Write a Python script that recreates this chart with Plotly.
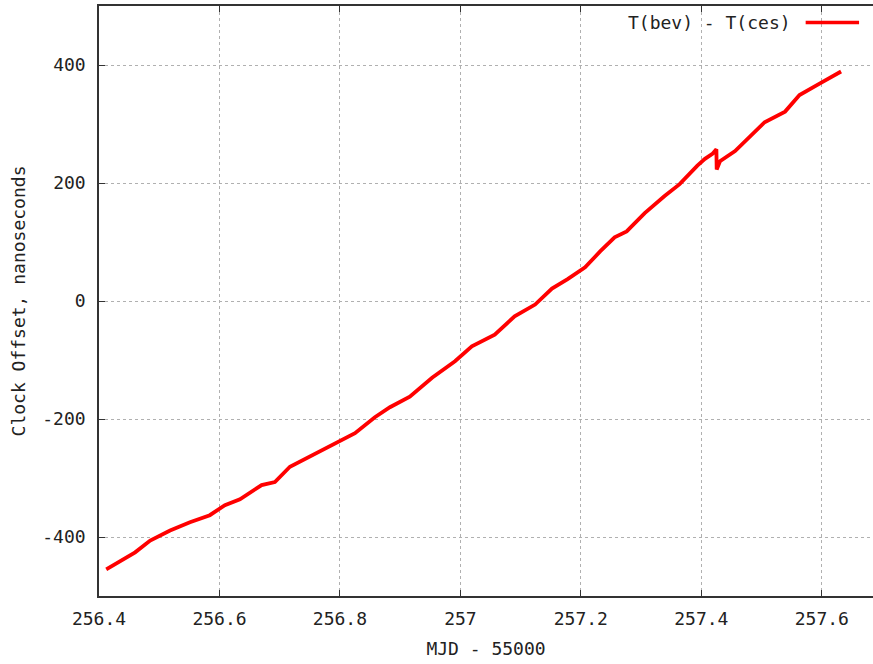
import plotly.graph_objects as go

mjd = [256.412, 256.432, 256.46, 256.485, 256.518, 256.551, 256.584, 256.609, 256.634,
       256.67, 256.692, 256.717, 256.75, 256.8, 256.825, 256.858, 256.883, 256.916,
       256.953, 256.991, 257.019, 257.057, 257.09, 257.124, 257.152, 257.178, 257.207,
       257.232, 257.256, 257.276, 257.306, 257.339, 257.364, 257.393, 257.406, 257.419,
       257.425, 257.4255, 257.431, 257.456, 257.48, 257.505, 257.539, 257.563, 257.597,
       257.632]
offset = [-455, -443, -426, -406, -389, -375, -363, -346, -336,
          -312, -307, -281, -264, -238, -224, -197, -180, -162,
          -130, -102, -77, -57, -26, -6, 21, 37, 57,
          84, 108, 118, 149, 178, 198, 229, 241, 250,
          257, 223, 237, 254, 279, 303, 321, 349, 369,
          389]
series_name = "T(bev) - T(ces)"
x_ticks = [256.4, 256.6, 256.8, 257.0, 257.2, 257.4, 257.6]
x_tick_labels = ["256.4", "256.6", "256.8", "257", "257.2", "257.4", "257.6"]
y_ticks = [-400, -200, 0, 200, 400]
y_tick_labels = ["-400", "-200", "0", "200", "400"]

FONT = "DejaVu Sans Mono"
FS = 18
TXT = "#222222"

fig = go.Figure()
fig.add_trace(go.Scatter(x=mjd, y=offset, mode="lines",
                         line=dict(color="#ff0000", width=3.8),
                         name=series_name, showlegend=False))

axis_common = dict(showline=True, linecolor="#333333", linewidth=1.5,
                   ticks="inside", ticklen=6, tickcolor="#333333",
                   showgrid=True, gridcolor="#b0b0b0", griddash="dot", gridwidth=1,
                   zeroline=False, automargin=False,
                   tickfont=dict(family=FONT, size=FS, color=TXT))

fig.update_xaxes(range=[256.4, 257.685], tickvals=x_ticks, ticktext=x_tick_labels,
                 mirror="ticks", ticklabelstandoff=6,
                 title=dict(text="MJD - 55000", font=dict(family=FONT, size=FS, color=TXT),
                            standoff=14),
                 **axis_common)
fig.update_yaxes(range=[-500, 500], tickvals=y_ticks, ticktext=y_tick_labels,
                 ticklabelstandoff=8,
                 title=dict(text="Clock Offset, nanoseconds",
                            font=dict(family=FONT, size=FS, color=TXT), standoff=12),
                 **axis_common)

# legend (gnuplot style: text then line sample)
fig.add_annotation(xref="paper", yref="paper", x=0.896, y=0.972, xanchor="right",
                   yanchor="middle", text=series_name, showarrow=False,
                   font=dict(family=FONT, size=FS, color=TXT))
fig.add_shape(type="line", xref="paper", yref="paper", x0=0.913, x1=0.982,
              y0=0.972, y1=0.972, line=dict(color="#ff0000", width=3.5))

fig.update_layout(width=873, height=664,
                  margin=dict(l=99, r=0, t=6, b=68),
                  paper_bgcolor="white", plot_bgcolor="white")

fig.write_html("out.html", config={"displayModeBar": False},
               post_script="document.body.style.margin='0';")
